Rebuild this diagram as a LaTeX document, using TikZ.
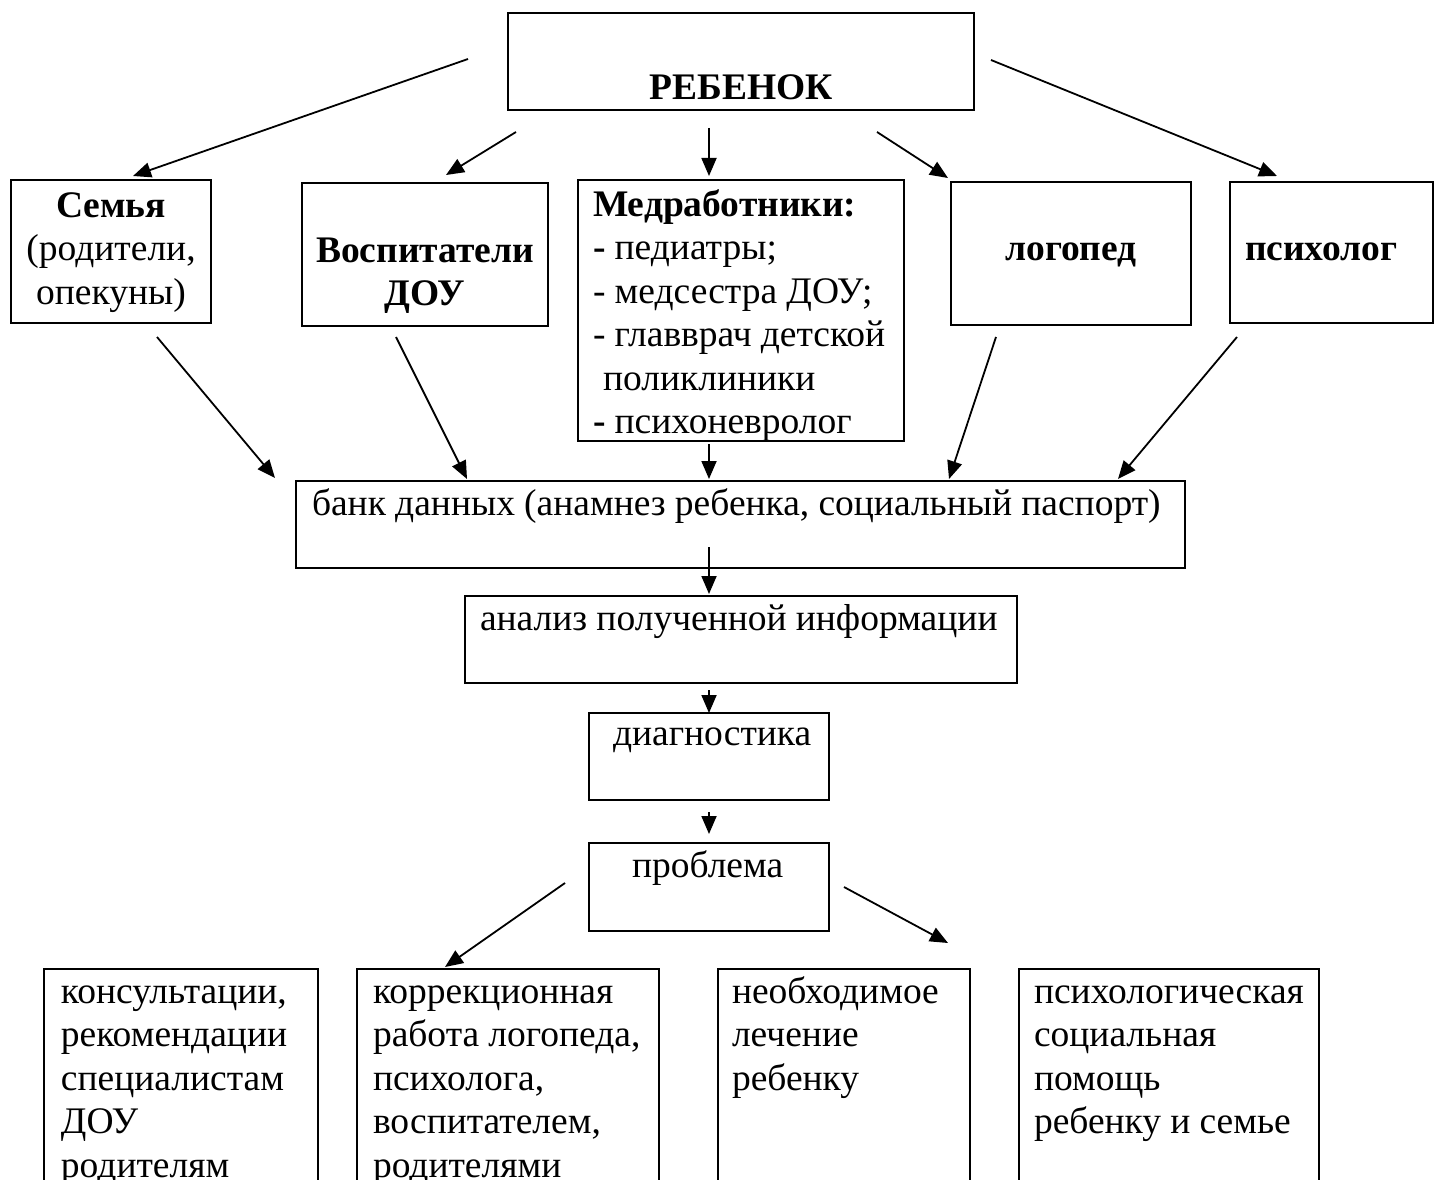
\documentclass[tikz,border=0pt]{standalone}
\usepackage{fontspec}
\setmainfont{Liberation Serif}
\usetikzlibrary{arrows.meta,calc}
\tikzset{>={Triangle[length=18pt,width=15pt]},
         box/.style={draw, line width=2.4pt, anchor=north west, inner sep=0pt,
                     outer sep=0pt, font=\fontsize{37.5}{43.5}\selectfont},
         lskip/.style={align=left, execute at begin node={\leftskip=#1\relax\rightskip=0pt plus 1fil\relax\spaceskip=0.245em\relax}},
         link/.style={->, line width=1.8pt}}

\begin{document}
\begin{tikzpicture}[x=1pt, y=-1pt]
	\useasboundingbox (0,0) rectangle (1435,1180);
	\clip (0,0) rectangle (1435,1180);

	\node[box, align=center, text width=466pt, text height=87pt, text depth=10pt] (child) at (508,13) {\textbf{РЕБЕНОК}};

	\node[box, align=center, text width=200pt, text height=37pt, text depth=106pt] (family) at (11,180)
	  {\textbf{Семья}\\(родители,\\опекуны)};
	\node[box, align=center, text width=246pt, text height=79pt, text depth=64pt] (teach) at (302,183)
	  {\textbf{Воспитатели}\\\textbf{ДОУ}\hspace*{40pt}};
	\node[box, lskip=15pt, text width=326pt, text height=36pt, text depth=225pt] (med) at (578,180)
	  {\textbf{Медработники:}\\ \textbf{-} педиатры;\\ - медсестра ДОУ;\\ - главврач детской\\ \hspace*{10pt}поликлиники\\ \textbf{-} психоневролог};
	\node[box, align=center, text width=240pt, text height=78pt, text depth=65pt] (logo) at (951,182) {\textbf{логопед}};
	\node[box, lskip=15pt, text width=203pt, text height=78pt, text depth=63pt] (psy) at (1230,182) {\textbf{психолог}};

	\node[box, lskip=16pt, text width=889pt, text height=34pt, text depth=53pt] (bank) at (296,481)
	  {банк данных (анамнез ребенка, социальный паспорт)};
	\node[box, lskip=15pt, text width=552pt, text height=34pt, text depth=53pt] (anal) at (465,596)
	  {анализ полученной информации};
	\node[box, lskip=24pt, text width=240pt, text height=32pt, text depth=55pt] (diag) at (589,713) {диагностика};
	\node[box, lskip=43pt, text width=240pt, text height=34pt, text depth=54pt] (prob) at (589,843) {проблема};

	\node[box, lskip=17pt, text width=274pt, text height=34pt, text depth=320pt] (consult) at (44,969)
	  {консультации,\\ рекомендации\\ специалистам\\ ДОУ\\ родителям};
	\node[box, lskip=16pt, text width=302pt, text height=34pt, text depth=320pt] (correct) at (357,969)
	  {коррекционная\\ работа логопеда,\\ психолога,\\ воспитателем,\\ родителями};
	\node[box, lskip=14pt, text width=252pt, text height=34pt, text depth=320pt] (treat) at (718,969)
	  {необходимое\\ лечение\\ ребенку};
	\node[box, lskip=15pt, text width=300pt, text height=34pt, text depth=320pt] (help) at (1019,969)
	  {психологическая\\ социальная\\ помощь\\ ребенку и семье};

	\draw[link] ($(child.north west)+(-40,46)$) -- ($(family.north west)+(122,-4)$);
	\draw[link] ($(child.south west)+(8,22)$) -- ($(teach.north west)+(144,-8)$);
	\draw[link] ($(child.south west)+(201,18)$) -- ($(med.north west)+(131,-4)$);
	\draw[link] ($(child.south west)+(369,22)$) -- ($(logo.north west)+(-3,-4)$);
	\draw[link] ($(child.north east)+(17,47)$) -- ($(psy.north west)+(47,-6)$);

	\draw[link] ($(family.south west)+(146,14)$) -- ($(bank.north west)+(-21,-3)$);
	\draw[link] ($(teach.south west)+(94,11)$) -- ($(bank.north west)+(171,-2)$);
	\draw[link] ($(med.south west)+(131,3)$) -- ($(bank.north west)+(413,-2)$);
	\draw[link] ($(logo.south west)+(45,12)$) -- ($(bank.north west)+(653,-2)$);
	\draw[link] ($(psy.south west)+(7,14)$) -- ($(bank.north west)+(822,-2)$);

	\draw[link] ($(bank.north west)+(413,66)$) -- ($(anal.north west)+(244,-2)$);
	\draw[link] ($(anal.south west)+(244,7)$) -- ($(diag.north west)+(120,0)$);
	\draw[link] ($(diag.south west)+(120,12)$) -- ($(prob.north west)+(120,-9)$);

	\draw[link] ($(prob.north west)+(-24,40)$) -- ($(correct.north west)+(88,-2)$);
	\draw[link] ($(prob.north east)+(15,44)$) -- ($(treat.north west)+(230,-26)$);
\end{tikzpicture}
\end{document}
